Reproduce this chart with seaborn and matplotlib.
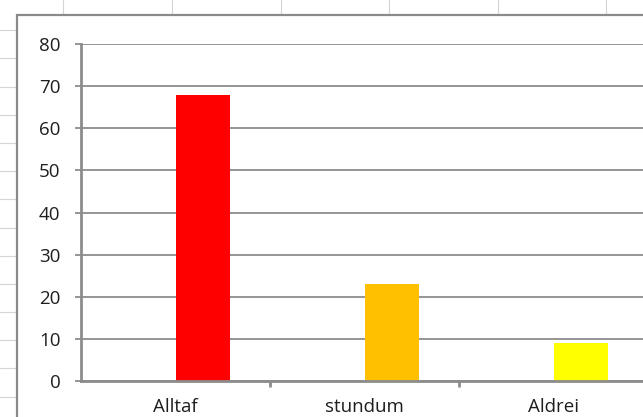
import matplotlib
matplotlib.use("Agg")
import matplotlib.pyplot as plt
import matplotlib.transforms as mtransforms
from matplotlib.patches import Rectangle
from matplotlib.lines import Line2D
import seaborn as sns
import pandas as pd

categories = ["Alltaf", "stundum", "Aldrei"]
values = [68, 23, 9]
bar_colors = ["#FF0000", "#FFC000", "#FFFF00"]
y_ticks = [0, 10, 20, 30, 40, 50, 60, 70, 80]

sns.set_theme(style="white")
plt.rcParams["font.family"] = ["Open Sans", "DejaVu Sans"]

W, H = 643, 417
fig = plt.figure(figsize=(W / 100, H / 100), dpi=100)
fig.patch.set_facecolor("white")

def fx(px):
    return px / W

def fy(py):
    return 1 - py / H

# worksheet cell grid peeking out around the chart area
cell_color = "#d4d4d4"
for x in [63, 172, 281, 389, 498, 606]:
    fig.add_artist(Line2D([fx(x), fx(x)], [fy(0), fy(14)], color=cell_color,
                          lw=0.8, zorder=-3))
for y in [30, 58, 87, 115, 143, 171, 199, 228, 256, 284, 312, 340, 368, 397]:
    fig.add_artist(Line2D([fx(0), fx(16)], [fy(y), fy(y)], color=cell_color,
                          lw=0.8, zorder=-3))

# chart area frame, kept behind the axes
fig.add_artist(Rectangle((fx(16.5), fy(430)), fx(700), fy(14.5) - fy(430),
                         facecolor="white", edgecolor="#8a8a8a", lw=1.6,
                         zorder=-2))

left, right, top, bottom = 81, 648, 44, 381
ax = fig.add_axes([fx(left), fy(bottom), fx(right - left), fy(top) - fy(bottom)])
ax.set_facecolor("none")
ax.set_zorder(1)

df = pd.DataFrame({"category": categories, "value": values})
bar_w = 54 / 189
sns.barplot(data=df, x="category", y="value", hue="category",
            palette=bar_colors, width=bar_w, legend=False, ax=ax,
            saturation=1, edgecolor="none", linewidth=0)

# Excel-style clustered placement: bars sit right of the category centre
shift = mtransforms.Affine2D().translate(bar_w / 2, 0)
for p in ax.patches:
    p.set_transform(shift + ax.transData)

ax.set_xlim(-0.5, len(categories) - 0.5)
ax.set_ylim(0, 80)
ax.set_yticks(y_ticks)
ax.set_yticklabels([str(v) for v in y_ticks])
ax.grid(axis="y", color="#8c8c8c", lw=1.3)
ax.set_axisbelow(True)
ax.set_xlabel("")
ax.set_ylabel("")

for s in ["top", "right"]:
    ax.spines[s].set_visible(False)
ax.spines["left"].set_color("#8c8c8c")
ax.spines["left"].set_linewidth(2)
ax.spines["bottom"].set_color("#8c8c8c")
ax.spines["bottom"].set_linewidth(2)

ax.tick_params(axis="y", which="major", left=True, length=4.3, width=1.3,
               color="#8c8c8c", labelsize=13.5, labelcolor="#1e1e1e", pad=10.5)
ax.tick_params(axis="x", which="major", bottom=False, length=0, labelsize=13.5,
               labelcolor="#1e1e1e", pad=12)
# category boundary ticks
ax.set_xticks([0.5, 1.5], minor=True)
ax.tick_params(axis="x", which="minor", bottom=True, length=4.3, width=2,
               color="#8c8c8c")

fig.savefig("out.png", dpi=100, facecolor="white")
